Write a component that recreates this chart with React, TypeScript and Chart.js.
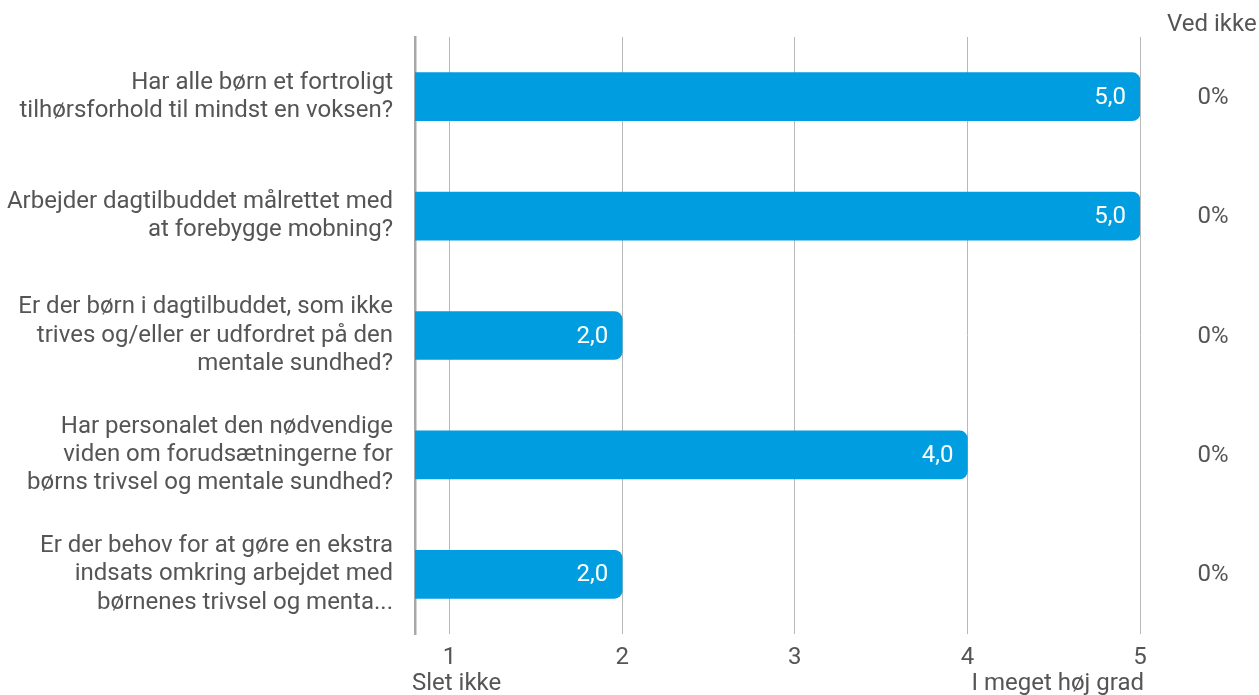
import React, { useEffect, useRef } from "react";
import { Chart, registerables } from "chart.js";

Chart.register(...registerables);

const categories: string[][] = [
  ["Har alle børn et fortroligt", "tilhørsforhold til mindst en voksen?"],
  ["Arbejder dagtilbuddet målrettet med", "at forebygge mobning?"],
  ["Er der børn i dagtilbuddet, som ikke", "trives og/eller er udfordret på den", "mentale sundhed?"],
  ["Har personalet den nødvendige", "viden om forudsætningerne for", "børns trivsel og mentale sundhed?"],
  ["Er der behov for at gøre en ekstra", "indsats omkring arbejdet med", "børnenes trivsel og menta..."],
];
const averages: number[] = [5.0, 5.0, 2.0, 4.0, 2.0];
const dontKnow: string[] = ["0%", "0%", "0%", "0%", "0%"];
const tickValues: number[] = [1, 2, 3, 4, 5];
const scaleMinLabel = "Slet ikke";
const scaleMaxLabel = "I meget høj grad";
const dontKnowHeader = "Ved ikke";

const TEXT = "#555555";
const FONT = "Roboto";
const SIZE = 24;

const extrasPlugin = {
  id: "extras",
  afterDatasetsDraw(chart: any) {
    const ctx = chart.ctx;
    const meta = chart.getDatasetMeta(0);
    const xs = chart.scales.x;
    ctx.save();
    ctx.font = `${SIZE}px ${FONT}`;
    ctx.fillStyle = "#ffffff";
    ctx.textAlign = "right";
    ctx.textBaseline = "middle";
    meta.data.forEach((bar: any, i: number) => {
      const v = averages[i];
      ctx.fillText(v.toFixed(1).replace(".", ","), bar.x - 14, bar.y + 1);
    });
    ctx.fillStyle = TEXT;
    ctx.textAlign = "center";
    meta.data.forEach((bar: any, i: number) => {
      ctx.fillText(dontKnow[i], 1213, bar.y + 1);
    });
    ctx.textAlign = "left";
    ctx.fillText(dontKnowHeader, 1167, 25);
    ctx.textAlign = "left";
    ctx.fillText(scaleMinLabel, chart.chartArea.left - 3, 684);
    ctx.textAlign = "right";
    ctx.fillText(scaleMaxLabel, xs.getPixelForValue(5) + 4, 684);
    ctx.restore();
  },
};

export default function App() {
  const ref = useRef<HTMLCanvasElement>(null);
  useEffect(() => {
    if (!ref.current) return;
    const chart = new Chart(ref.current, {
      type: "bar",
      data: {
        labels: categories,
        datasets: [
          {
            data: averages,
            backgroundColor: "#009EE0",
            borderWidth: 0,
            borderRadius: 8,
            borderSkipped: "start",
            barThickness: 48,
          },
        ],
      },
      options: {
        indexAxis: "y",
        animation: false,
        responsive: true,
        maintainAspectRatio: false,
        layout: { padding: { top: 37, right: 119, bottom: 0, left: 0 } },
        plugins: {
          legend: { display: false },
          tooltip: { enabled: false },
        },
        scales: {
          x: {
            type: "linear",
            min: 0.8,
            max: 5,
            afterBuildTicks: (scale: any) => {
              scale.ticks = tickValues.map((v) => ({ value: v }));
            },
            afterFit: (scale: any) => {
              scale.height = 61;
              scale.paddingLeft = 0;
              scale.paddingRight = 0;
            },
            grid: { color: "#b8b8b8", lineWidth: 1, drawTicks: false },
            border: { display: false },
            ticks: {
              color: TEXT,
              font: { family: FONT, size: SIZE },
              padding: 10,
              callback: (v: any) => String(v),
            },
          },
          y: {
            afterFit: (scale: any) => {
              scale.width = 415;
              scale.paddingTop = 0;
              scale.paddingBottom = 0;
            },
            grid: { display: false, drawTicks: false },
            border: { display: true, color: "#a8a8a8", width: 2.5 },
            ticks: {
              color: TEXT,
              font: { family: FONT, size: SIZE, lineHeight: 1.18 },
              padding: 22,
            },
          },
        },
      },
      plugins: [extrasPlugin],
    });
    return () => chart.destroy();
  }, []);
  return (
    <div style={{ position: "fixed", left: 0, top: 0, width: 1259, height: 695, background: "#fff" }}>
      <canvas ref={ref} />
    </div>
  );
}
